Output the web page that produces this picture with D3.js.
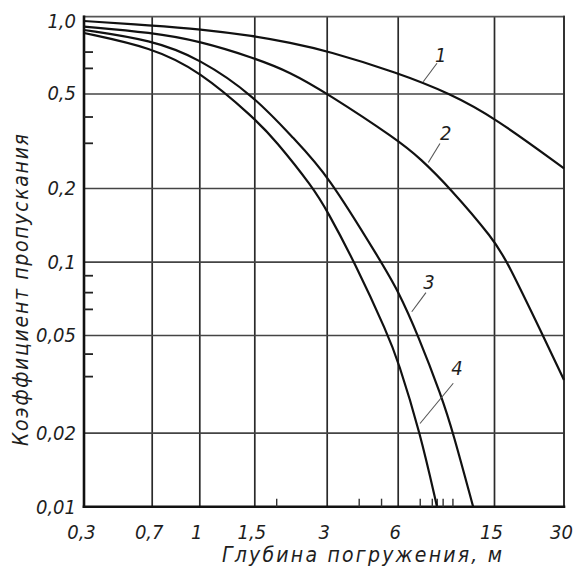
<!DOCTYPE html>
<html>
<head>
<meta charset="utf-8">
<script src="https://cdn.jsdelivr.net/npm/d3@7"></script>
<style>
  body { margin: 0; background: #fff; }
  svg text {
    font-family: 'DejaVu Sans Condensed', 'DejaVu Sans', sans-serif;
    font-stretch: condensed;
    font-style: italic;
    fill: #1e1e1e;
  }
</style>
</head>
<body>
<div id="chart"></div>
<script>
'use strict';

// depth of immersion, m (x axis)
var depthTicks  = [0.3, 0.7, 1, 1.5, 3, 6, 15, 30];
var depthLabels = ['0,3', '0,7', '1', '1,5', '3', '6', '15', '30'];
var depthMinor  = [1.85, 4.1, 5.1, 7.4, 8.3, 8.7, 9.2, 10.1];

// transmission coefficient (y axis)
var coefTicks  = [1, 0.5, 0.2, 0.1, 0.05, 0.02, 0.01];
var coefLabels = ['1,0', '0,5', '0,2', '0,1', '0,05', '0,02', '0,01'];
var coefMinor  = [0.73, 0.63, 0.4, 0.31, 0.088, 0.075, 0.064, 0.042, 0.034];

// curves
var curve1Depth = [0.3, 0.7, 1, 1.5, 2.11, 3, 6, 9.87, 15, 30];
var curve1Coef  = [0.962, 0.924, 0.895, 0.840, 0.791, 0.736, 0.603, 0.5, 0.397, 0.242];

var curve2Depth = [0.3, 0.7, 1, 1.5, 2.11, 3, 6, 7.42, 9.87, 15, 17.1, 24.3, 30];
var curve2Coef  = [0.915, 0.867, 0.803, 0.689, 0.607, 0.502, 0.319, 0.267, 0.2, 0.123, 0.1, 0.05, 0.0328];

var curve3Depth = [0.3, 0.7, 1, 1.5, 2.21, 3, 5.13, 6, 7.28, 9.12, 10.15, 12.3];
var curve3Coef  = [0.887, 0.810, 0.686, 0.488, 0.319, 0.231, 0.099, 0.0765, 0.05, 0.028, 0.0201, 0.01];

var curve4Depth = [0.3, 0.7, 1, 1.5, 1.83, 2.64, 3, 3.95, 5.46, 6, 7.42, 8.72];
var curve4Coef  = [0.863, 0.757, 0.613, 0.394, 0.319, 0.2, 0.1626, 0.099, 0.05, 0.0396, 0.0201, 0.01];

// curve numbers with their leader lines (depth, coef)
var labelNames = ['1', '2', '3', '4'];
var labelFrom  = [[7.65, 0.556], [8.03, 0.256], [6.86, 0.0623], [7.42, 0.0218]];
var labelTo    = [[8.72, 0.657], [8.97, 0.308], [7.85, 0.0746], [10.18, 0.0318]];
var labelAt    = [[9.03, 0.708], [9.47, 0.341], [8.08, 0.0828], [10.55, 0.0366]];

class TransmissionChart {

    constructor(parentId, width, height) {

        this.width = width;
        this.height = height;

        // the printed grid is not quite even, so the log scales are piecewise
        this.xStops = [84, 151.7, 199.3, 254.3, 326.7, 397.7, 494, 564];
        this.yStops = [16.7, 93.5, 188, 261.7, 335, 432.7, 506.7];

        this.left = this.xStops[0];
        this.right = this.xStops[this.xStops.length - 1];
        this.top = this.yStops[0];
        this.bottom = this.yStops[this.yStops.length - 1];

        this.x = d3.scaleLog().domain(depthTicks).range(this.xStops);
        this.y = d3.scaleLog().domain(coefTicks).range(this.yStops);

        this.svg =
            d3.select(parentId)
                .append('svg')
                .attr('width', width)
                .attr('height', height);
    }

    draw() {
        this.drawGrid();
        this.drawTicks();
        this.drawCurves();
        this.drawLabels();
        this.drawTitles();
    }

    drawGrid() {

        var plotH = this.bottom - this.top;
        var plotW = this.right - this.left;

        var vGrid = this.svg.append('g')
            .attr('transform', 'translate(0,' + this.bottom + ')')
            .call(d3.axisBottom(this.x)
                .tickValues(depthTicks.slice(1, -1))
                .tickSize(-plotH)
                .tickFormat(''));
        vGrid.select('.domain').remove();
        vGrid.selectAll('line').attr('stroke', '#2a2a2a').attr('stroke-width', 1.7);

        var hGrid = this.svg.append('g')
            .attr('transform', 'translate(' + this.left + ',0)')
            .call(d3.axisLeft(this.y)
                .tickValues(coefTicks.slice(1, -1))
                .tickSize(-plotW)
                .tickFormat(''));
        hGrid.select('.domain').remove();
        hGrid.selectAll('line').attr('stroke', '#444').attr('stroke-width', 1.7);

        // frame
        var frame = [
            {x1: this.left, y1: this.top, x2: this.right, y2: this.top, w: 1.8, c: '#555'},
            {x1: this.right, y1: this.top, x2: this.right, y2: this.bottom, w: 2, c: '#333'},
            {x1: this.left, y1: this.top, x2: this.left, y2: this.bottom, w: 2.6, c: '#111'},
            {x1: this.left, y1: this.bottom, x2: this.right, y2: this.bottom, w: 2.6, c: '#111'}
        ];
        this.svg.append('g')
            .selectAll('line')
            .data(frame)
            .join('line')
            .attr('x1', d => d.x1).attr('y1', d => d.y1)
            .attr('x2', d => d.x2).attr('y2', d => d.y2)
            .attr('stroke', d => d.c)
            .attr('stroke-width', d => d.w)
            .attr('stroke-linecap', 'square');
    }

    drawTicks() {

        // short inward ticks
        var xMinor = this.svg.append('g')
            .attr('transform', 'translate(0,' + this.bottom + ')')
            .call(d3.axisBottom(this.x).tickValues(depthMinor).tickSize(-8).tickFormat(''));
        xMinor.select('.domain').remove();
        xMinor.selectAll('line').attr('stroke', '#333').attr('stroke-width', 1.4);

        var yMinor = this.svg.append('g')
            .attr('transform', 'translate(' + this.left + ',0)')
            .call(d3.axisLeft(this.y).tickValues(coefMinor).tickSize(-9).tickFormat(''));
        yMinor.select('.domain').remove();
        yMinor.selectAll('line').attr('stroke', '#222').attr('stroke-width', 1.8);

        // labels
        var xLab = this.svg.append('g')
            .attr('transform', 'translate(0,' + this.bottom + ')')
            .call(d3.axisBottom(this.x)
                .tickValues(depthTicks)
                .tickSize(0)
                .tickPadding(18)
                .tickFormat((d, i) => depthLabels[i]));
        xLab.select('.domain').remove();
        xLab.selectAll('text')
            .attr('font-size', 20)
            .attr('font-family', null)
            .attr('dx', -3);

        var yLab = this.svg.append('g')
            .attr('transform', 'translate(' + this.left + ',0)')
            .call(d3.axisLeft(this.y)
                .tickValues(coefTicks)
                .tickSize(0)
                .tickPadding(8)
                .tickFormat((d, i) => coefLabels[i]));
        yLab.select('.domain').remove();
        yLab.selectAll('text')
            .attr('font-size', 20)
            .attr('font-family', null);
        yLab.selectAll('.tick')
            .filter(d => d === 1)
            .select('text')
            .attr('dy', '0.55em');
    }

    drawCurves() {

        var curves = [
            {depth: curve1Depth, coef: curve1Coef},
            {depth: curve2Depth, coef: curve2Coef},
            {depth: curve3Depth, coef: curve3Coef},
            {depth: curve4Depth, coef: curve4Coef}
        ];

        var line = d3.line()
            .x(d => this.x(d[0]))
            .y(d => this.y(d[1]))
            .curve(d3.curveBasis);

        this.svg.append('g')
            .selectAll('path')
            .data(curves)
            .join('path')
            .attr('d', c => line(c.depth.map((v, i) => [v, c.coef[i]])))
            .attr('fill', 'none')
            .attr('stroke', '#111')
            .attr('stroke-width', 2.2);
    }

    drawLabels() {

        var g = this.svg.append('g');

        g.selectAll('line')
            .data(labelNames)
            .join('line')
            .attr('x1', (d, i) => this.x(labelFrom[i][0]))
            .attr('y1', (d, i) => this.y(labelFrom[i][1]))
            .attr('x2', (d, i) => this.x(labelTo[i][0]))
            .attr('y2', (d, i) => this.y(labelTo[i][1]))
            .attr('stroke', '#555')
            .attr('stroke-width', 1.1);

        g.selectAll('text')
            .data(labelNames)
            .join('text')
            .attr('x', (d, i) => this.x(labelAt[i][0]))
            .attr('y', (d, i) => this.y(labelAt[i][1]))
            .attr('dy', '0.36em')
            .attr('text-anchor', 'middle')
            .attr('font-size', 20)
            .text(d => d);
    }

    drawTitles() {

        this.svg.append('text')
            .attr('x', 362)
            .attr('y', 562)
            .attr('text-anchor', 'middle')
            .attr('font-size', 21)
            .attr('textLength', 280)
            .attr('lengthAdjust', 'spacing')
            .text('Глубина  погружения,  м');

        this.svg.append('text')
            .attr('transform', 'translate(28,290) rotate(-90)')
            .attr('text-anchor', 'middle')
            .attr('font-size', 21)
            .attr('textLength', 312)
            .attr('lengthAdjust', 'spacing')
            .text('Коэффициент  пропускания');
    }
}

var chart = new TransmissionChart('#chart', 584, 584);
chart.draw();
</script>
</body>
</html>
